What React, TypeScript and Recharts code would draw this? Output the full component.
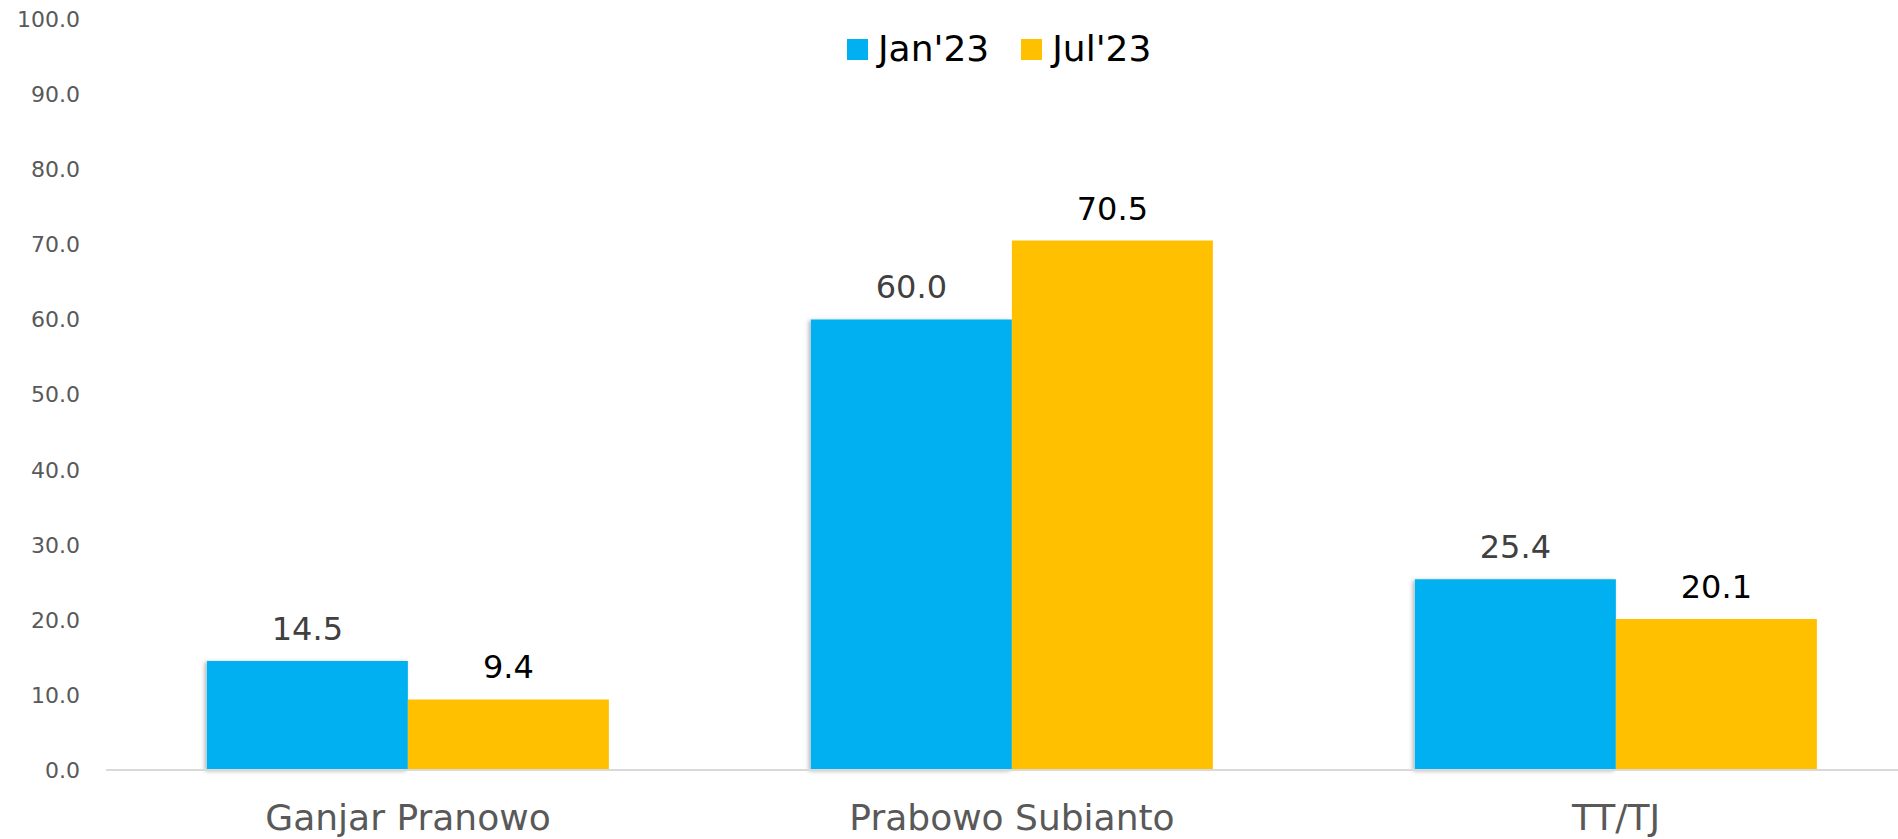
import { Bar, BarChart, LabelList, Legend, XAxis, YAxis } from "recharts";

const FONT = "'DejaVu Sans', sans-serif";

// survey results, per candidate
const candidates = ["Ganjar Pranowo", "Prabowo Subianto", "TT/TJ"];
const jan23 = [14.5, 60.0, 25.4];
const jul23 = [9.4, 70.5, 20.1];
const yTicks = [0, 10, 20, 30, 40, 50, 60, 70, 80, 90, 100];

const series = [
  { key: "jan", name: "Jan'23", color: "#00B0F0", labelColor: "#404040", shadow: true },
  { key: "jul", name: "Jul'23", color: "#FFC000", labelColor: "#000000", shadow: false },
];

const data = candidates.map((name, i) => ({
  name,
  jan: jan23[i],
  jul: jul23[i],
}));

function CategoryTick({ x, y, payload }: any) {
  return (
    <text
      x={x}
      y={y + 60}
      textAnchor="middle"
      fill="#595959"
      fontSize={36}
      fontFamily={FONT}
    >
      {payload.value}
    </text>
  );
}

function ValueTick({ x, y, payload }: any) {
  return (
    <text
      x={x - 26}
      y={y}
      dy="0.36em"
      textAnchor="end"
      fill="#595959"
      fontSize={22}
      fontFamily={FONT}
    >
      {Number(payload.value).toFixed(1)}
    </text>
  );
}

const makeLabel = (color: string) => (props: any) => {
  const x = Number(props.x);
  const y = Number(props.y);
  const width = Number(props.width);
  return (
    <text
      x={x + width / 2}
      y={y - 21}
      textAnchor="middle"
      fill={color}
      fontSize={32}
      fontFamily={FONT}
    >
      {Number(props.value).toFixed(1)}
    </text>
  );
};

function LegendContent() {
  return (
    <div
      style={{
        display: "flex",
        alignItems: "center",
        fontFamily: FONT,
        fontSize: 36,
        lineHeight: "42px",
        color: "#000",
        whiteSpace: "nowrap",
      }}
    >
      {series.map((s, i) => (
        <div
          key={s.key}
          style={{ display: "flex", alignItems: "center", marginLeft: i ? 32 : 0 }}
        >
          <span
            style={{
              display: "inline-block",
              width: 21,
              height: 21,
              background: s.color,
              marginRight: 10,
            }}
          />
          <span>{s.name}</span>
        </div>
      ))}
    </div>
  );
}

export default function App() {
  return (
    <div
      style={{
        position: "absolute",
        left: 0,
        top: 0,
        width: 1898,
        height: 839,
        overflow: "hidden",
        background: "#fff",
      }}
    >
      <BarChart
        width={1930}
        height={839}
        data={data}
        margin={{ top: 19, right: 12, left: 0, bottom: 9 }}
        barGap={0}
        barCategoryGap="16.7%"
      >
        <defs>
          <filter id="barShadow" x="-10%" y="-10%" width="120%" height="120%">
            <feDropShadow dx={-2} dy={1} stdDeviation={2} floodColor="#000" floodOpacity={0.3} />
          </filter>
        </defs>
        <XAxis
          dataKey="name"
          axisLine={{ stroke: "#D9D9D9", strokeWidth: 2 }}
          tickLine={false}
          tickSize={0}
          tickMargin={0}
          height={60}
          tick={<CategoryTick />}
          interval={0}
        />
        <YAxis
          domain={[0, 100]}
          ticks={yTicks}
          interval={0}
          axisLine={false}
          tickLine={false}
          tickSize={0}
          tickMargin={0}
          width={106}
          tick={<ValueTick />}
        />
        <Legend
          verticalAlign="middle"
          align="center"
          layout="horizontal"
          content={<LegendContent />}
          wrapperStyle={{ top: 28, left: 847, width: "auto", height: "auto" }}
        />
        {series.map((s) => (
          <Bar
            key={s.key}
            dataKey={s.key}
            name={s.name}
            fill={s.color}
            filter={s.shadow ? "url(#barShadow)" : undefined}
            isAnimationActive={false}
          >
            <LabelList dataKey={s.key} content={makeLabel(s.labelColor)} />
          </Bar>
        ))}
      </BarChart>
    </div>
  );
}
